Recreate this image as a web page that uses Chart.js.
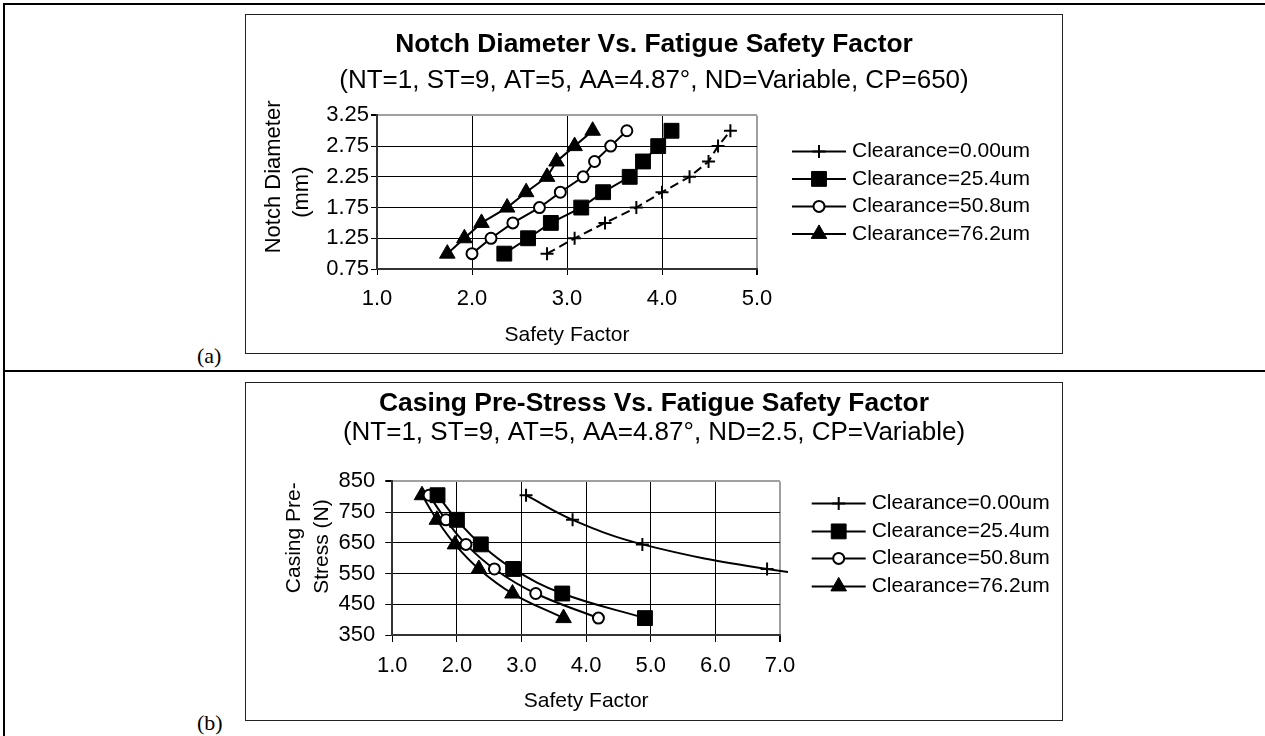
<!DOCTYPE html>
<html>
<head>
  <title>Fatigue Safety Factor</title>
  <script src="https://cdn.jsdelivr.net/npm/chart.js"></script>
  <style>
    body {
      margin: 0;
      background: #fff;
      width: 1265px;
      height: 736px;
      position: relative;
      overflow: hidden;
    }

    .rule {
      position: absolute;
      background: #000;
    }

    .box {
      position: absolute;
      left: 245px;
      width: 818px;
      border: 1px solid #222;
      box-sizing: border-box;
    }

    .box canvas {
      display: block;
    }

    .tag {
      position: absolute;
      left: 197px;
      font-family: "Liberation Serif", "Times New Roman", serif;
      font-size: 22px;
      line-height: 22px;
    }
  </style>
</head>
<body>
  <div class="rule" style="left:3px; top:3px; width:1262px; height:2px"></div>
  <div class="rule" style="left:3px; top:3px; width:2px; height:733px"></div>
  <div class="rule" style="left:3px; top:370px; width:1262px; height:2px"></div>

  <div class="box" style="top:14px; height:340px">
    <canvas id="notchChart" width="816" height="338"></canvas>
  </div>
  <div class="tag" style="top:345px">(a)</div>

  <div class="box" style="top:382px; height:339px">
    <canvas id="stressChart" width="816" height="337"></canvas>
  </div>
  <div class="tag" style="top:712px">(b)</div>

  <script>
    const seriesNames = ["Clearance=0.00um", "Clearance=25.4um", "Clearance=50.8um", "Clearance=76.2um"];

    // chart (a): notch diameter (mm) against safety factor
    const notchDia = [1.0, 1.25, 1.5, 1.75, 2.0, 2.25, 2.5, 2.75, 3.0];
    const sfNotch0 = [2.79, 3.08, 3.40, 3.73, 4.00, 4.29, 4.49, 4.59, 4.72];
    const sfNotch25 = [2.34, 2.59, 2.83, 3.15, 3.38, 3.66, 3.80, 3.96, 4.10];
    const sfNotch50 = [2.00, 2.20, 2.43, 2.71, 2.93, 3.17, 3.29, 3.46, 3.63];
    const sfNotch76 = [1.74, 1.92, 2.10, 2.37, 2.57, 2.79, 2.89, 3.08, 3.27];
    const notchXTicks = [1, 2, 3, 4, 5];
    const notchYTicks = [0.75, 1.25, 1.75, 2.25, 2.75, 3.25];

    // chart (b): casing pre-stress (N) against safety factor
    const preStress = [805, 725, 645, 565, 485, 405];
    const sfStress0 = [3.07, 3.79, 4.87, 6.80, 9.8]; // last point lies past the axis end
    const sfStress25 = [1.70, 2.00, 2.37, 2.87, 3.63, 4.91];
    const sfStress50 = [1.57, 1.83, 2.14, 2.58, 3.22, 4.19];
    const sfStress76 = [1.46, 1.69, 1.97, 2.34, 2.86, 3.65];
    const stressXTicks = [1, 2, 3, 4, 5, 6, 7];
    const stressYTicks = [350, 450, 550, 650, 750, 850];

    const FONT = '"Liberation Sans", Arial, sans-serif';
    Chart.defaults.font.family = FONT;
    Chart.defaults.color = "#000";

    const markers = [
      { pointStyle: "cross", pointRadius: 6.5, pointBorderWidth: 2, pointBackgroundColor: "#000" },
      { pointStyle: "rect", pointRadius: 10.5, pointBorderWidth: 1, pointBackgroundColor: "#000" },
      { pointStyle: "circle", pointRadius: 5.5, pointBorderWidth: 2, pointBackgroundColor: "#fff" },
      { pointStyle: "triangle", pointRadius: 9, pointBorderWidth: 1, pointBackgroundColor: "#000" }
    ];

    function pairs(xs, ys) {
      return xs.map((x, i) => ({ x: x, y: ys[i] }));
    }

    function makeDataset(i, xs, ys, extra) {
      return Object.assign({
        label: seriesNames[i],
        data: pairs(xs, ys),
        showLine: true,
        borderColor: "#000",
        borderWidth: 2,
        pointBorderColor: "#000",
        pointHoverRadius: 0
      }, markers[i], extra || {});
    }

    // legend drawn as line + marker + text, like the spreadsheet legend
    const lineLegend = {
      id: "lineLegend",
      afterDraw(chart, args, opts) {
        const { ctx, chartArea } = chart;
        ctx.save();
        chart.data.datasets.forEach((ds, i) => {
          const x0 = chartArea.right + opts.dx;
          const y = chartArea.top + opts.rows[i];
          ctx.setLineDash([]);
          ctx.strokeStyle = "#000";
          ctx.lineWidth = 2;
          ctx.beginPath();
          ctx.moveTo(x0, y);
          ctx.lineTo(x0 + 54, y);
          ctx.stroke();
          ctx.fillStyle = ds.pointBackgroundColor;
          ctx.lineWidth = ds.pointBorderWidth;
          Chart.helpers.drawPoint(ctx, {
            pointStyle: ds.pointStyle,
            radius: ds.pointRadius,
            borderWidth: ds.pointBorderWidth,
            rotation: 0
          }, x0 + 27, y);
          ctx.fillStyle = "#000";
          ctx.font = "21px " + FONT;
          ctx.textAlign = "left";
          ctx.textBaseline = "middle";
          ctx.fillText(ds.label, x0 + 60, y);
        });
        ctx.restore();
      }
    };

    function frameColor(max) {
      return c => (c.tick && c.tick.value === max) ? "#a0a0a0" : "#000";
    }
    function frameWidth(max) {
      return c => (c.tick && c.tick.value === max) ? 2 : 1;
    }

    // empty right-hand axis that keeps room for the legend, so titles stay centred on the box
    function legendRoom(width) {
      return {
        axis: "y",
        position: "right",
        display: true,
        afterFit: s => { s.width = width; },
        grid: { display: false, drawTicks: false },
        ticks: { display: false },
        border: { display: false }
      };
    }

    // ---------- chart (a) ----------
    new Chart(document.getElementById("notchChart"), {
      type: "scatter",
      data: {
        datasets: [
          makeDataset(0, sfNotch0, notchDia, { borderDash: [9, 5] }),
          makeDataset(1, sfNotch25, notchDia),
          makeDataset(2, sfNotch50, notchDia),
          makeDataset(3, sfNotch76, notchDia)
        ]
      },
      options: {
        responsive: false,
        animation: false,
        events: [],
        devicePixelRatio: 1,
        layout: { padding: 0 },
        scales: {
          x: {
            type: "linear",
            min: 1,
            max: 5,
            afterBuildTicks: s => { s.ticks = notchXTicks.map(v => ({ value: v })); },
            afterFit: s => { s.height = 84; },
            ticks: { font: { size: 22 }, padding: 11, callback: v => v.toFixed(1) },
            grid: { color: frameColor(5), lineWidth: frameWidth(5), tickColor: "#000", tickLength: 6 },
            border: { color: "#333", width: 2 },
            title: { display: true, text: "Safety Factor", font: { size: 21 }, padding: { top: 0, bottom: 5.4 } }
          },
          y: {
            type: "linear",
            min: 0.75,
            max: 3.25,
            afterBuildTicks: s => { s.ticks = notchYTicks.map(v => ({ value: v })); },
            afterFit: s => { s.width = 131; },
            ticks: { font: { size: 22 }, padding: 2, callback: v => v.toFixed(2) },
            grid: { color: frameColor(3.25), lineWidth: frameWidth(3.25), tickColor: "#000", tickLength: 6 },
            border: { color: "#333", width: 2 },
            title: {
              display: true,
              text: ["     Notch Diameter", "(mm)"],
              font: { size: 22, lineHeight: 1.27 },
              padding: { top: 14, bottom: 0 }
            }
          },
          room: legendRoom(305)
        },
        plugins: {
          legend: { display: false },
          tooltip: { enabled: false },
          title: {
            display: true,
            text: "Notch Diameter Vs. Fatigue Safety Factor",
            font: { size: 26.4, weight: "bold", lineHeight: 1 },
            padding: { top: 17, bottom: 0 }
          },
          subtitle: {
            display: true,
            text: "(NT=1, ST=9, AT=5, AA=4.87°, ND=Variable, CP=650)",
            color: "#000",
            font: { size: 26, lineHeight: 1 },
            padding: { top: 9, bottom: 22 }
          },
          lineLegend: { dx: 35, rows: [36, 63.5, 91, 118.5] }
        }
      },
      plugins: [lineLegend]
    });

    // ---------- chart (b) ----------
    new Chart(document.getElementById("stressChart"), {
      type: "scatter",
      data: {
        datasets: [
          makeDataset(0, sfStress0, preStress, { tension: 0.4, clip: { left: 1, top: 1, right: 8, bottom: 1 } }),
          makeDataset(1, sfStress25, preStress, { tension: 0.4 }),
          makeDataset(2, sfStress50, preStress, { tension: 0.4 }),
          makeDataset(3, sfStress76, preStress, { tension: 0.4 })
        ]
      },
      options: {
        responsive: false,
        animation: false,
        events: [],
        devicePixelRatio: 1,
        layout: { padding: 0 },
        scales: {
          x: {
            type: "linear",
            min: 1,
            max: 7,
            afterBuildTicks: s => { s.ticks = stressXTicks.map(v => ({ value: v })); },
            afterFit: s => { s.height = 85; },
            ticks: { font: { size: 22 }, padding: 10.5, callback: v => v.toFixed(1) },
            grid: { color: frameColor(7), lineWidth: frameWidth(7), tickColor: "#000", tickLength: 7 },
            border: { color: "#333", width: 2 },
            title: { display: true, text: "Safety Factor", font: { size: 21 }, padding: { top: 0, bottom: 6.4 } }
          },
          y: {
            type: "linear",
            min: 350,
            max: 850,
            afterBuildTicks: s => { s.ticks = stressYTicks.map(v => ({ value: v })); },
            afterFit: s => { s.width = 146.3; },
            ticks: { font: { size: 22 }, padding: 10, callback: v => String(v) },
            grid: { color: frameColor(850), lineWidth: frameWidth(850), tickColor: "#000", tickLength: 7 },
            border: { color: "#333", width: 2 },
            title: {
              display: true,
              text: ["       Casing Pre-", "    Stress (N)"],
              font: { size: 21, lineHeight: 1.31 },
              padding: { top: 34.75, bottom: 0 }
            }
          },
          room: legendRoom(282)
        },
        plugins: {
          legend: { display: false },
          tooltip: { enabled: false },
          title: {
            display: true,
            text: "Casing Pre-Stress Vs. Fatigue Safety Factor",
            font: { size: 26.4, weight: "bold", lineHeight: 1 },
            padding: { top: 7.5, bottom: 0 }
          },
          subtitle: {
            display: true,
            text: "(NT=1, ST=9, AT=5, AA=4.87°, ND=2.5, CP=Variable)",
            color: "#000",
            font: { size: 26, lineHeight: 1 },
            padding: { top: 2.5, bottom: 36 }
          },
          lineLegend: { dx: 31.7, rows: [22, 50, 77, 105] }
        }
      },
      plugins: [lineLegend]
    });
  </script>
</body>
</html>
